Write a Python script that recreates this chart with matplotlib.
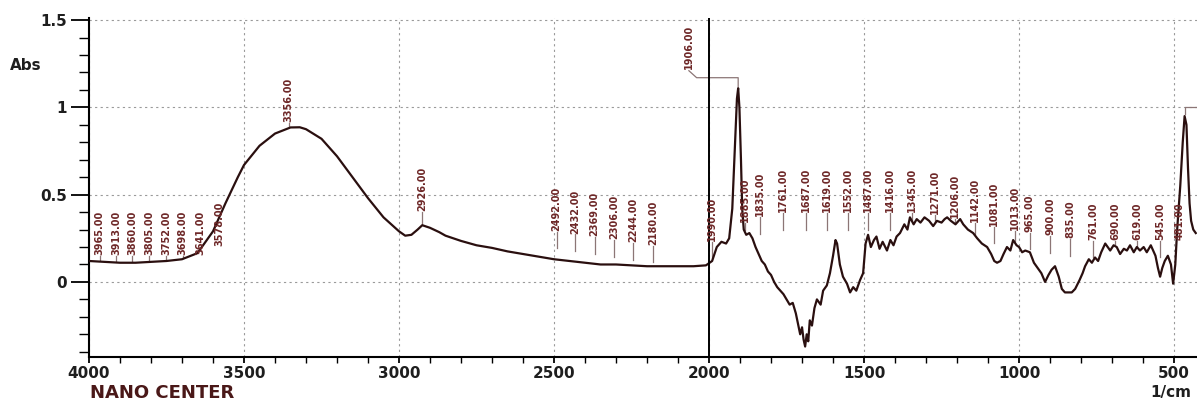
import numpy as np
import matplotlib.pyplot as plt
from matplotlib.ticker import MultipleLocator

# FTIR spectrum (wavenumber in 1/cm, absorbance), rows of 12
wavenumber = [4000, 3950, 3900, 3850, 3800, 3750, 3700, 3650, 3600, 3560, 3520, 3500,
              3450, 3400, 3350, 3320, 3300, 3250, 3200, 3150, 3100, 3050, 3000, 2980,
              2960, 2940, 2925, 2900, 2870, 2850, 2800, 2750, 2700, 2650, 2600, 2550,
              2500, 2450, 2400, 2350, 2300, 2250, 2200, 2150, 2100, 2050, 2010, 1990,
              1975, 1960, 1945, 1935, 1925, 1918, 1910, 1906, 1902, 1897, 1893, 1888,
              1880, 1870, 1860, 1850, 1840, 1830, 1820, 1810, 1800, 1790, 1780, 1770,
              1760, 1750, 1740, 1730, 1720, 1712, 1706, 1700, 1695, 1690, 1685, 1680,
              1675, 1668, 1660, 1652, 1640, 1632, 1620, 1610, 1600, 1592, 1587, 1578,
              1568, 1555, 1545, 1535, 1525, 1513, 1503, 1495, 1487, 1478, 1468, 1460,
              1450, 1440, 1426, 1415, 1405, 1395, 1384, 1370, 1360, 1352, 1340, 1330,
              1318, 1305, 1290, 1277, 1265, 1250, 1240, 1232, 1220, 1205, 1190, 1180,
              1165, 1148, 1135, 1120, 1103, 1090, 1080, 1071, 1060, 1050, 1039, 1028,
              1019, 1008, 1000, 990, 980, 965, 952, 940, 928, 916, 905, 895,
              884, 872, 862, 852, 840, 830, 819, 805, 795, 787, 775, 765,
              755, 745, 735, 722, 706, 695, 685, 674, 662, 652, 642, 630,
              620, 610, 598, 588, 575, 560, 552, 545, 538, 530, 520, 510,
              503, 496, 490, 480, 472, 466, 460, 455, 450, 445, 438, 430]
absorbance = [0.12, 0.115, 0.11, 0.11, 0.115, 0.12, 0.13, 0.165, 0.29, 0.45, 0.6, 0.67,
              0.78, 0.85, 0.885, 0.886, 0.875, 0.82, 0.72, 0.6, 0.48, 0.37, 0.29, 0.265,
              0.27, 0.3, 0.325, 0.31, 0.285, 0.265, 0.235, 0.21, 0.195, 0.175, 0.16, 0.145,
              0.13, 0.12, 0.11, 0.1, 0.1, 0.095, 0.09, 0.09, 0.09, 0.09, 0.095, 0.12,
              0.2, 0.23, 0.22, 0.25, 0.42, 0.72, 1.05, 1.11, 1.0, 0.7, 0.42, 0.3,
              0.27, 0.28, 0.25, 0.2, 0.16, 0.12, 0.1, 0.06, 0.04, 0.0, -0.03, -0.05,
              -0.07, -0.1, -0.13, -0.12, -0.18, -0.25, -0.3, -0.26, -0.33, -0.37, -0.3, -0.34,
              -0.22, -0.25, -0.15, -0.1, -0.13, -0.05, -0.02, 0.05, 0.15, 0.24, 0.22, 0.1,
              0.03, -0.01, -0.06, -0.03, -0.05, 0.01, 0.05, 0.22, 0.27, 0.2, 0.24, 0.26,
              0.19, 0.23, 0.18, 0.24, 0.21, 0.26, 0.28, 0.33, 0.3, 0.37, 0.33, 0.36,
              0.34, 0.37, 0.35, 0.32, 0.35, 0.34, 0.36, 0.37, 0.35, 0.33, 0.36, 0.33,
              0.3, 0.28, 0.25, 0.22, 0.2, 0.16, 0.12, 0.11, 0.12, 0.16, 0.2, 0.18,
              0.24, 0.21, 0.2, 0.17, 0.18, 0.17, 0.11, 0.08, 0.05, 0.0, 0.04, 0.07,
              0.09, 0.03, -0.04, -0.06, -0.06, -0.06, -0.04, 0.01, 0.05, 0.09, 0.13, 0.11,
              0.14, 0.12, 0.17, 0.22, 0.18, 0.21, 0.2, 0.16, 0.19, 0.18, 0.21, 0.17,
              0.2, 0.18, 0.2, 0.17, 0.21, 0.15, 0.08, 0.03, 0.08, 0.12, 0.15, 0.1,
              -0.01, 0.1, 0.3, 0.55, 0.8, 0.95, 0.9, 0.65, 0.45, 0.35, 0.3, 0.28]

# picked peaks (labelled on the chart)
peaks = [3965, 3913, 3860, 3805, 3752, 3698, 3641, 3578, 3356, 2926,
         2492, 2432, 2369, 2306, 2244, 2180,
         1990, 1885, 1835, 1761, 1687, 1619, 1552, 1487, 1416, 1345, 1271,
         1206, 1142, 1081, 1013, 965, 900, 835, 761, 690, 619, 545, 481]
tall_peak = 1906
edge_peak = 466

curve_color = "#2a0f0f"
label_color = "#6e2828"
leader_color = "#8c7676"

fig = plt.figure(figsize=(11.97, 4.01), dpi=100)
ax = fig.add_axes([89 / 1197, 44 / 401, 1 - 89 / 1197, 339 / 401])

ax.plot(wavenumber, absorbance, color=curve_color, lw=1.6, zorder=3)

ax.set_xlim(4000, 426)
ax.set_ylim(-0.43, 1.512)

wn_inc = wavenumber[::-1]
ab_inc = absorbance[::-1]


# label rows follow a band above the trace
def label_base(x):
    xs = [430, 800, 1050, 1300, 1800, 1950, 2000, 2060, 2940, 3400, 3590, 4000]
    ys = [0.24, 0.24, 0.31, 0.40, 0.40, 0.30, 0.22, 0.18, 0.41, 0.97, 0.155, 0.155]
    return np.interp(x, xs, ys)


for p in peaks:
    yc = np.interp(p, wn_inc, ab_inc)
    yb = float(label_base(p))
    ax.text(p, yb, f"{p:.2f}", rotation=90, ha="center", va="bottom",
            fontsize=7, fontweight="bold", color=label_color, zorder=4)
    if yc < yb:
        ax.plot([p, p], [yb - 0.005, max(yc + 0.01, yb - 0.1)],
                color=leader_color, lw=0.9, zorder=2)

# the tall peak gets its label up top with a stepped leader
yt = np.interp(tall_peak, wn_inc, ab_inc)
ax.text(2065, 1.22, f"{tall_peak:.2f}", rotation=90, ha="center", va="bottom",
        fontsize=7, fontweight="bold", color=label_color, zorder=4)
ax.plot([2065, 2040, tall_peak, tall_peak], [1.21, 1.17, 1.17, yt + 0.01],
        color=leader_color, lw=0.9, zorder=2)

# leader of the peak near the right edge runs out of the frame
ye = np.interp(edge_peak, wn_inc, ab_inc)
ax.plot([edge_peak, edge_peak, 380], [ye + 0.01, 1.0, 1.0],
        color=leader_color, lw=0.9, zorder=2)

ax.axvline(2000, color="black", lw=1.4, zorder=3)

# axes styling
for side in ["top", "right"]:
    ax.spines[side].set_visible(False)
ax.spines["left"].set_linewidth(1.5)
ax.spines["bottom"].set_linewidth(1.5)

ax.set_xticks(np.arange(4000, 499, -500))
ax.xaxis.set_minor_locator(MultipleLocator(100))
ax.set_yticks([0, 0.5, 1, 1.5])
ax.set_yticklabels(["0", "0.5", "1", "1.5"])
ax.yaxis.set_minor_locator(MultipleLocator(0.1))
ax.tick_params(axis="y", which="major", length=13, width=1.3, pad=3,
               labelsize=11)
ax.tick_params(axis="y", which="minor", length=7, width=1.0)
ax.tick_params(axis="x", which="major", length=4.5, width=1.3, pad=2,
               labelsize=11)
ax.tick_params(axis="x", which="minor", length=4.5, width=1.0)
for lbl in ax.get_xticklabels() + ax.get_yticklabels():
    lbl.set_fontweight("bold")
    lbl.set_color("#1e1e1e")

ax.grid(True, which="major", linestyle=(0, (2, 3)), color="#9a9a9a", lw=0.8)
ax.set_axisbelow(True)

fig.text(10 / 1197, 1 - 65 / 401, "Abs", fontsize=11, fontweight="bold",
         color="#1e1e1e", va="center")
fig.text(90 / 1197, 1 - 393 / 401, "NANO CENTER", fontsize=13,
         fontweight="bold", color="#4a1818", va="center")
fig.text(1150 / 1197, 1 - 392 / 401, "1/cm", fontsize=11,
         fontweight="bold", color="#1e1e1e", va="center")

fig.savefig("out.png", dpi=100)
